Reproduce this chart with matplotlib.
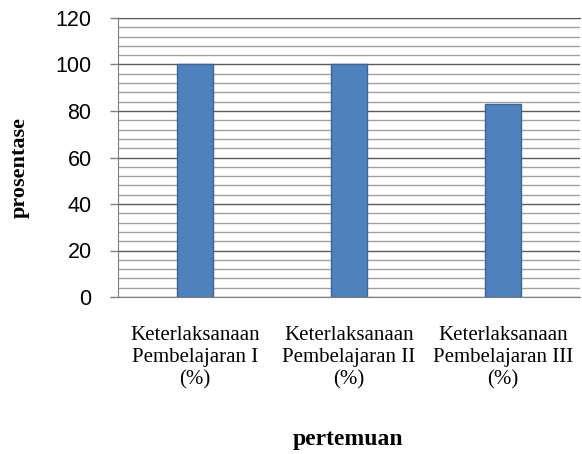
import matplotlib
matplotlib.use("Agg")
import matplotlib.pyplot as plt
from matplotlib.ticker import MultipleLocator

categories = [
    "Keterlaksanaan\nPembelajaran I\n(%)",
    "Keterlaksanaan\nPembelajaran II\n(%)",
    "Keterlaksanaan\nPembelajaran III\n(%)",
]
values = [100, 100, 83]
y_ticks = [0, 20, 40, 60, 80, 100, 120]

fig = plt.figure(figsize=(5.82, 4.54), dpi=100)
ax = fig.add_axes([118 / 582, 1 - 297 / 454, 462 / 582, 279 / 454])

x = list(range(len(categories)))
ax.bar(x, values, width=0.24, color="#4F81BD", edgecolor="#3A6596",
       linewidth=1.0, zorder=3)

ax.set_xlim(-0.5, 2.5)
ax.set_ylim(0, 120)
ax.set_yticks(y_ticks)
ax.yaxis.set_minor_locator(MultipleLocator(4))

ax.yaxis.grid(True, which="major", color="#5A5A5A", linewidth=1.0, zorder=0)
ax.yaxis.grid(True, which="minor", color="#A0A0A0", linewidth=1.0, zorder=0)

ax.spines["right"].set_visible(False)
ax.spines["top"].set_color("#5A5A5A")
ax.spines["left"].set_color("#7F7F7F")
ax.spines["bottom"].set_color("#7F7F7F")

ax.tick_params(axis="y", which="major", length=6, width=1, color="#7F7F7F",
               labelsize=15.5, pad=13)
ax.tick_params(axis="y", which="minor", length=0)
ax.tick_params(axis="x", length=0, pad=21)

ax.set_xticks(x)
ax.set_xticklabels(categories, family="Liberation Serif", fontsize=15,
                   linespacing=1.2)
for lbl in ax.get_yticklabels():
    lbl.set_family("Liberation Sans")

fig.text(20 / 582, 1 - 168 / 454, "prosentase", rotation=90,
         family="Liberation Serif", fontweight="bold", fontsize=16,
         ha="center", va="center")
fig.text(348 / 582, 1 - 440 / 454, "pertemuan",
         family="Liberation Serif", fontweight="bold", fontsize=17,
         ha="center", va="center")

fig.savefig("out.png", dpi=100)
